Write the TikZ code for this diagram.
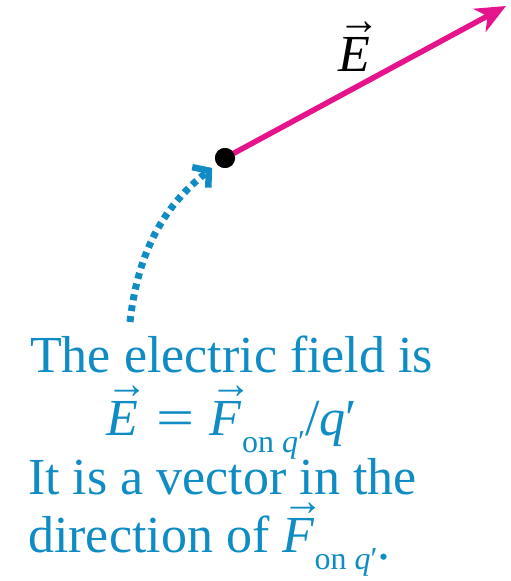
\documentclass[tikz,border=0pt]{standalone}
\usepackage{fontspec}
\setmainfont{Liberation Serif}
\usetikzlibrary{arrows.meta}
\definecolor{fieldblue}{RGB}{16,140,196}
\definecolor{fieldmag}{RGB}{230,20,140}
\newcommand\vecit[1]{\leavevmode\setbox0\hbox{\textit{#1}}\rlap{\hbox to \wd0{\hss\hspace{0.2em}\raisebox{0.71em}{\scalebox{0.8}[0.85]{→}}\hss}}\box0}
\newcommand\subonq{\raisebox{-0.33em}{\fontsize{32}{32}\selectfont on \textit{q}′}}
\begin{document}
\begin{tikzpicture}[x=1pt,y=-1pt,
  txt/.style={anchor=base west, text=fieldblue, font=\fontsize{52}{60}\selectfont, inner sep=0pt},
  dotnode/.style={circle, fill=black, minimum size=20pt, inner sep=0pt}]
\useasboundingbox (0,0) rectangle (511,581);
\node[dotnode] (dot) at (225,158) {};
\coordinate (tip) at (506,6);
\draw[fieldmag, line width=5.5pt, -{Stealth[length=30pt,width=26pt,inset=9pt]}] (dot.center) -- (tip);
\node[dotnode] at (dot) {};
\node[anchor=base, inner sep=0pt, font=\fontsize{52}{60}\selectfont] (elab) at (354,71) {\vecit{E}};
\coordinate (start) at (130,322);
\draw[fieldblue, line width=7pt, dash pattern=on 6pt off 5pt, -{Straight Barb[length=11pt,width=26pt,line width=6.5pt]}, shorten >=6pt] (start) .. controls (138,250) and (165,205) .. (dot);
\node[txt] (l1) at (30,372) {The electric field is};
\node[txt] (l2) at (106,435) {\vecit{E}\hspace{0.35em}\scalebox{1.3}[1]{=}\hspace{0.3em}\vecit{F}\subonq/\textit{q}′};
\node[txt] (l3) at (28,494) {It is a vector in the};
\node[txt] (l4) at (28,552) {direction of \vecit{F}\subonq\raisebox{-0.15em}{.}};
\end{tikzpicture}
\end{document}
